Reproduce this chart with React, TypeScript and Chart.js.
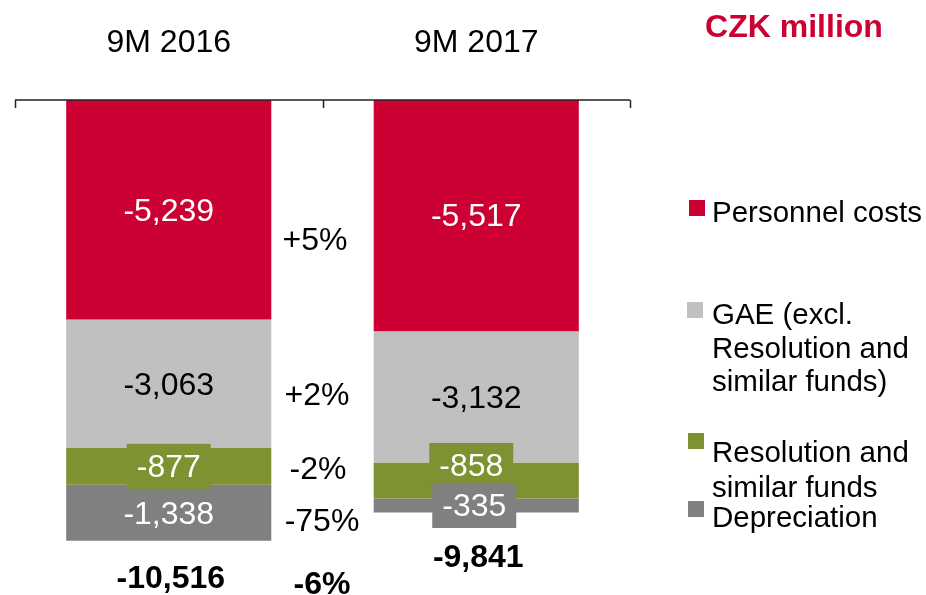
import React, { useEffect, useRef } from "react";
import { Chart, registerables } from "chart.js";

Chart.register(...registerables);

// ---- data ----
const categories = ["9M 2016", "9M 2017"];
const seriesNames = [
  "Personnel costs",
  "GAE (excl. Resolution and similar funds)",
  "Resolution and similar funds",
  "Depreciation",
];
const legendLines = [
  ["Personnel costs"],
  ["GAE (excl.", "Resolution and", "similar funds)"],
  ["Resolution and", "similar funds"],
  ["Depreciation"],
];
const personnel = [-5239, -5517];
const gae = [-3063, -3132];
const resolution = [-877, -858];
const depreciation = [-1338, -335];
const totals = [-10516, -9841];
const seriesChange = ["+5%", "+2%", "-2%", "-75%"];
const totalChange = "-6%";
const unitLabel = "CZK million";

const colors = ["#CC0033", "#C0C0C0", "#7E9232", "#808080"];
const labelColors = ["#FFFFFF", "#000000", "#FFFFFF", "#FFFFFF"];

const FONT = '"Liberation Sans", Arial, Helvetica, sans-serif';
const fmt = (v: number) => v.toLocaleString("en-US");
const TY = 2; // baseline correction for text

const overlay = {
  id: "overlay",
  afterDatasetsDraw(chart: any) {
    const ctx = chart.ctx as CanvasRenderingContext2D;
    const xs = chart.scales.x;
    const ys = chart.scales.y;
    const area = chart.chartArea;
    ctx.save();

    // top axis line with tick marks at category boundaries
    const y0 = ys.getPixelForValue(0);
    ctx.strokeStyle = "#222222";
    ctx.lineWidth = 1.5;
    ctx.beginPath();
    ctx.moveTo(area.left, y0);
    ctx.lineTo(area.right, y0);
    const mid = (xs.getPixelForValue(0) + xs.getPixelForValue(1)) / 2;
    [area.left, mid, area.right].forEach((x) => {
      ctx.moveTo(Math.round(x) + 0.5, y0);
      ctx.lineTo(Math.round(x) + 0.5, y0 + 8);
    });
    ctx.stroke();

    ctx.textAlign = "center";
    ctx.textBaseline = "middle";

    // category labels
    ctx.fillStyle = "#000";
    ctx.font = `32px ${FONT}`;
    categories.forEach((c, i) => {
      ctx.fillText(c, xs.getPixelForValue(i), 41 + TY);
    });

    // unit label
    ctx.fillStyle = "#CC0033";
    ctx.font = `bold 32px ${FONT}`;
    ctx.fillText(unitLabel, 794, 26 + TY);

    // segment labels
    const boxW = 84;
    const boxH = 45;
    const nudge: Record<string, [number, number]> = { "2-1": [-5, -15], "3-1": [-2, 0] };
    chart.data.datasets.forEach((ds: any, di: number) => {
      const meta = chart.getDatasetMeta(di);
      meta.data.forEach((el: any, j: number) => {
        const p = el.getProps(["x", "y", "base"], true);
        const n = nudge[`${di}-${j}`] || [0, 0];
        const cx = p.x + n[0];
        const cy = (p.y + p.base) / 2 + n[1];
        if (di >= 2) {
          ctx.fillStyle = colors[di];
          ctx.fillRect(cx - boxW / 2, cy - boxH / 2, boxW, boxH);
        }
        ctx.fillStyle = labelColors[di];
        ctx.font = `32px ${FONT}`;
        ctx.fillText(fmt(ds.data[j]), cx, cy + TY);
      });
    });

    // totals below bars
    ctx.fillStyle = "#000";
    ctx.font = `bold 32px ${FONT}`;
    const totalOffsets = [36, 44];
    totals.forEach((t, j) => {
      const bottom = ys.getPixelForValue(t);
      ctx.fillText(fmt(t), xs.getPixelForValue(j) + 2, bottom + totalOffsets[j] + TY);
    });

    // change column
    const pctX = [315, 317, 318, 322];
    const pctY = [239, 394, 468, 520];
    ctx.font = `32px ${FONT}`;
    seriesChange.forEach((s, i) => {
      ctx.fillText(s, pctX[i], pctY[i] + TY);
    });
    ctx.font = `bold 32px ${FONT}`;
    ctx.fillText(totalChange, 322, 583 + TY);

    // legend
    const markers = [
      [689, 200],
      [687, 302],
      [688, 433],
      [688, 501],
    ];
    const lineY = [[212], [314, 347.5, 381], [452, 486.5], [517]];
    ctx.textAlign = "left";
    ctx.font = `29.5px ${FONT}`;
    legendLines.forEach((lines, i) => {
      ctx.fillStyle = colors[i];
      ctx.fillRect(markers[i][0], markers[i][1], 16, 16);
      ctx.fillStyle = "#000";
      lines.forEach((l, k) => ctx.fillText(l, 712, lineY[i][k] + TY));
    });

    ctx.restore();
  },
};

export default function App() {
  const ref = useRef<HTMLCanvasElement | null>(null);
  useEffect(() => {
    document.body.style.margin = "0";
    const canvas = ref.current!;
    const values = [personnel, gae, resolution, depreciation];
    const chart = new Chart(canvas, {
      type: "bar",
      data: {
        labels: categories,
        datasets: values.map((v, i) => ({
          label: seriesNames[i],
          data: v,
          backgroundColor: colors[i],
          borderWidth: 0,
          categoryPercentage: 0.667,
          barPercentage: 1,
        })),
      },
      options: {
        responsive: false,
        animation: false,
        devicePixelRatio: 1,
        layout: { padding: { left: 15, right: 296, top: 100, bottom: 13 } },
        plugins: { legend: { display: false }, tooltip: { enabled: false } },
        scales: {
          x: { stacked: true, display: false },
          y: { stacked: true, display: false, min: -11500, max: 0 },
        },
      },
      plugins: [overlay],
    });
    return () => chart.destroy();
  }, []);
  return (
    <div style={{ width: 926, height: 595, background: "#fff" }}>
      <canvas ref={ref} width={926} height={595} />
    </div>
  );
}
